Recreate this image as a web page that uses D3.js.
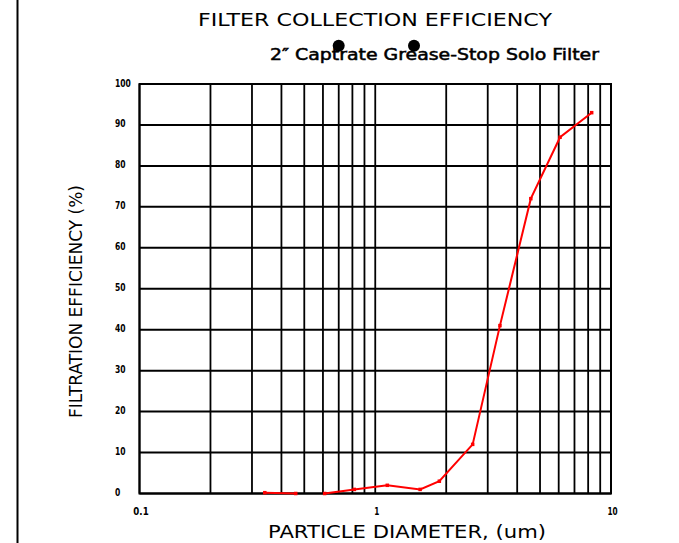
<!DOCTYPE html>
<html>
<head>
<meta charset="utf-8">
<script src="https://cdn.jsdelivr.net/npm/d3@7"></script>
<style>
  html, body { margin: 0; padding: 0; background: #fff; }
  svg { display: block; }
</style>
</head>
<body>
<script>
// ---- data ----
const diameters = [0.34, 0.46, 0.53, 0.61, 0.815, 1.125, 1.55, 1.87, 2.59, 3.38, 4.57, 6.08, 8.28];
const efficiency = [0.2, 0, null, 0, 1, 2, 1, 3, 12, 41, 72, 87, 93];
const xTickLabels = [0.1, 1, 10];
const yTickLabels = [0, 10, 20, 30, 40, 50, 60, 70, 80, 90, 100];
const titleText = "FILTER COLLECTION EFFICIENCY";
const subtitleText = "2\u2033 Captrate Grease-Stop Solo Filter";
const xTitleText = "PARTICLE DIAMETER, (um)";
const yTitleText = "FILTRATION EFFICIENCY (%)";

const W = 679, H = 543;
const svg = d3.select("body").append("svg").attr("width", W).attr("height", H);

const x = d3.scaleLog().domain([0.1, 10]).range([139.5, 611]);
const y = d3.scaleLinear().domain([0, 100]).range([493.5, 84]);

// left page rule
svg.append("line").attr("x1", 17.5).attr("x2", 17.5).attr("y1", 0).attr("y2", H)
  .attr("stroke", "#000").attr("stroke-width", 2);

// vertical grid (log minor)
const g = svg.append("g");
g.selectAll("line.v").data(x.ticks()).enter().append("line")
  .attr("x1", d => x(d)).attr("x2", d => x(d))
  .attr("y1", y(100)).attr("y2", y(0))
  .attr("stroke", "#000").attr("stroke-width", 1.8);
// horizontal grid
g.selectAll("line.h").data(yTickLabels).enter().append("line")
  .attr("x1", x(0.1)).attr("x2", x(10))
  .attr("y1", d => y(d)).attr("y2", d => y(d))
  .attr("stroke", "#000").attr("stroke-width", 2);
// border
g.append("rect").attr("x", x(0.1)).attr("y", y(100))
  .attr("width", x(10) - x(0.1)).attr("height", y(0) - y(100))
  .attr("fill", "none").attr("stroke", "#000").attr("stroke-width", 2);

// y tick labels
svg.selectAll("text.yt").data(yTickLabels).enter().append("text")
  .attr("x", 115).attr("y", d => y(d) + 2.5)
  .attr("font-family", "DejaVu Sans, sans-serif")
  .attr("font-weight", "bold").attr("font-size", 10.5)
  .attr("textLength", d => String(d).length * 5.3).attr("lengthAdjust", "spacingAndGlyphs")
  .attr("fill", "#000")
  .text(d => d);

// x tick labels
svg.selectAll("text.xt").data(xTickLabels).enter().append("text")
  .attr("x", d => x(d) + 1.5).attr("y", 515)
  .attr("text-anchor", "middle")
  .attr("font-family", "DejaVu Sans, sans-serif")
  .attr("font-weight", "bold").attr("font-size", 10.5)
  .attr("textLength", d => String(d).length * 5.1).attr("lengthAdjust", "spacingAndGlyphs")
  .attr("fill", "#000")
  .text(d => d);

// data line
const pts = diameters.map((d, i) => ({ d, v: efficiency[i] }));
const line = d3.line().defined(p => p.v !== null).x(p => x(p.d)).y(p => y(p.v));
svg.append("path").attr("d", line(pts))
  .attr("fill", "none").attr("stroke", "#ff0000").attr("stroke-width", 2);
svg.selectAll("rect.m").data(pts.filter(p => p.v !== null)).enter().append("rect")
  .attr("x", p => x(p.d) - 1.75).attr("y", p => y(p.v) - 1.75)
  .attr("width", 3.5).attr("height", 3.5).attr("fill", "#ff0000");

// titles
svg.append("text").attr("x", 198).attr("y", 26)
  .attr("font-family", "DejaVu Sans, sans-serif").attr("font-size", 18)
  .attr("textLength", 354).attr("lengthAdjust", "spacingAndGlyphs")
  .attr("fill", "#000").text(titleText);

svg.append("text").attr("x", 270).attr("y", 60)
  .attr("font-family", "DejaVu Sans, sans-serif").attr("font-size", 15)
  .attr("stroke", "#000").attr("stroke-width", 0.5)
  .attr("textLength", 329).attr("lengthAdjust", "spacingAndGlyphs")
  .attr("fill", "#000").text(subtitleText);

// dots over subtitle
svg.selectAll("circle.dot").data([338.7, 414]).enter().append("circle")
  .attr("cx", d => d).attr("cy", 45.7).attr("r", 6).attr("fill", "#000");

svg.append("text").attr("x", 268).attr("y", 537.7)
  .attr("font-family", "DejaVu Sans, sans-serif").attr("font-size", 18)
  .attr("textLength", 278).attr("lengthAdjust", "spacingAndGlyphs")
  .attr("fill", "#000").text(xTitleText);

svg.append("text")
  .attr("transform", "translate(82,418) rotate(-90)")
  .attr("x", 0).attr("y", 0)
  .attr("font-family", "DejaVu Sans, sans-serif").attr("font-size", 17)
  .attr("textLength", 233).attr("lengthAdjust", "spacingAndGlyphs")
  .attr("fill", "#000").text(yTitleText);
</script>
</body>
</html>
